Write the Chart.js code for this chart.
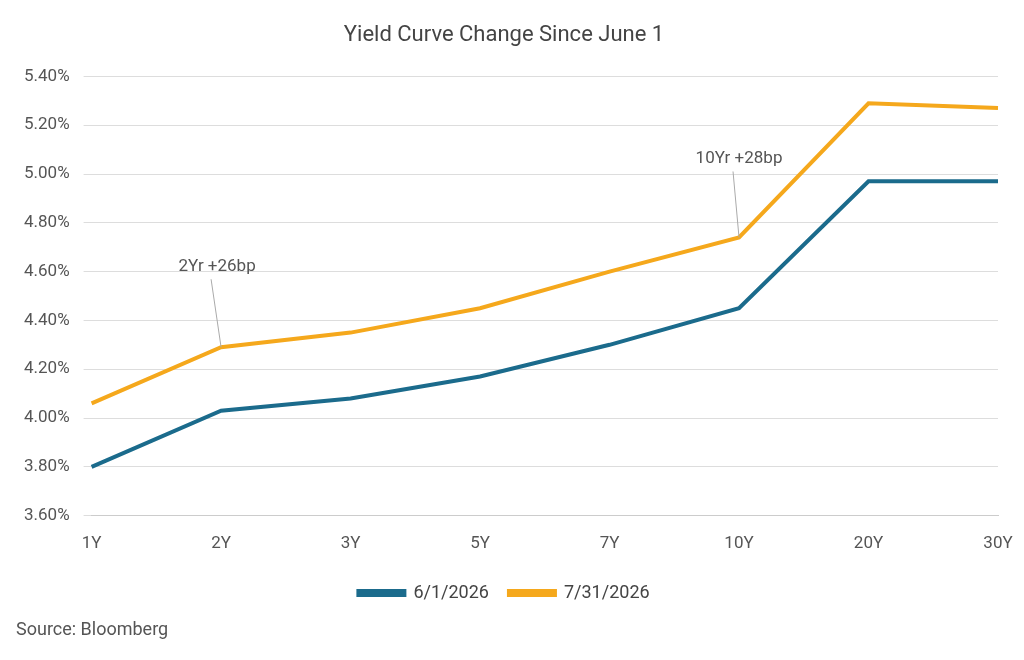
<!DOCTYPE html>
<html><head><meta charset="utf-8">
<script src="https://cdn.jsdelivr.net/npm/chart.js@4"></script>
<style>html,body{margin:0;background:#fff}#wrap{width:1024px;height:660px;position:relative}</style>
</head><body><div id="wrap"><canvas id="c" width="1024" height="660"></canvas></div>
<script>
// Data
const tenors = ['1Y', '2Y', '3Y', '5Y', '7Y', '10Y', '20Y', '30Y']
const june1 = [3.80, 4.03, 4.08, 4.17, 4.30, 4.45, 4.97, 4.97]
const july31 = [4.06, 4.29, 4.35, 4.45, 4.60, 4.74, 5.29, 5.27]
const notes = [
    {idx: 1, text: '2Yr +26bp', dx: -10, dy: -68},
    {idx: 5, text: '10Yr +28bp', dx: -6, dy: -66}
]

// draws the callout labels and leader lines
const callouts = {
    id: 'callouts',
    afterDatasetsDraw(chart) {
        const ctx = chart.ctx
        const pts = chart.getDatasetMeta(1).data
        ctx.save()
        notes.forEach(n => {
            const p = pts[n.idx]
            ctx.strokeStyle = '#aaa'
            ctx.lineWidth = 1
            ctx.beginPath()
            ctx.moveTo(p.x, p.y)
            ctx.lineTo(p.x + n.dx, p.y + n.dy)
            ctx.stroke()
            ctx.fillStyle = '#555'
            ctx.font = '17px Roboto'
            ctx.textAlign = 'center'
            ctx.textBaseline = 'bottom'
            ctx.fillText(n.text, p.x + n.dx + 6, p.y + n.dy - 4)
        })
        ctx.fillStyle = '#555'
        ctx.font = '18px Roboto'
        ctx.textAlign = 'left'
        ctx.textBaseline = 'middle'
        ctx.fillText('Source: Bloomberg', 16, 630)
        ctx.restore()
    }
}

new Chart(document.getElementById('c'), {
    type: 'line',
    data: {
        labels: tenors,
        datasets: [
            {label: '6/1/2026', data: june1, borderColor: '#1b6b8c', backgroundColor: '#1b6b8c', borderWidth: 4, pointRadius: 0, tension: 0},
            {label: '7/31/2026', data: july31, borderColor: '#f5a81c', backgroundColor: '#f5a81c', borderWidth: 4, pointRadius: 0, tension: 0}
        ]
    },
    options: {
        responsive: false,
        animation: false,
        devicePixelRatio: 1,
        layout: {padding: {left: 10, right: 26, top: 0, bottom: 48}},
        plugins: {
            title: {display: true, text: 'Yield Curve Change Since June 1', color: '#444', font: {family: 'Roboto', size: 22, weight: 'normal'}, padding: {top: 22, bottom: 28}},
            legend: {position: 'bottom', labels: {color: '#444', font: {family: 'Roboto', size: 18}, boxWidth: 46, boxHeight: 4, padding: 20}},
            tooltip: {enabled: false}
        },
        scales: {
            x: {grid: {display: false}, border: {color: '#ccc'}, ticks: {color: '#555', font: {family: 'Roboto', size: 17}, padding: 10, maxRotation: 0}},
            y: {min: 3.6, max: 5.4, grid: {color: '#ddd'}, border: {display: false},
                ticks: {stepSize: 0.2, color: '#555', font: {family: 'Roboto', size: 17}, padding: 14, callback: v => v.toFixed(2) + '%'}}
        }
    },
    plugins: [callouts]
})
</script>
</body></html>
